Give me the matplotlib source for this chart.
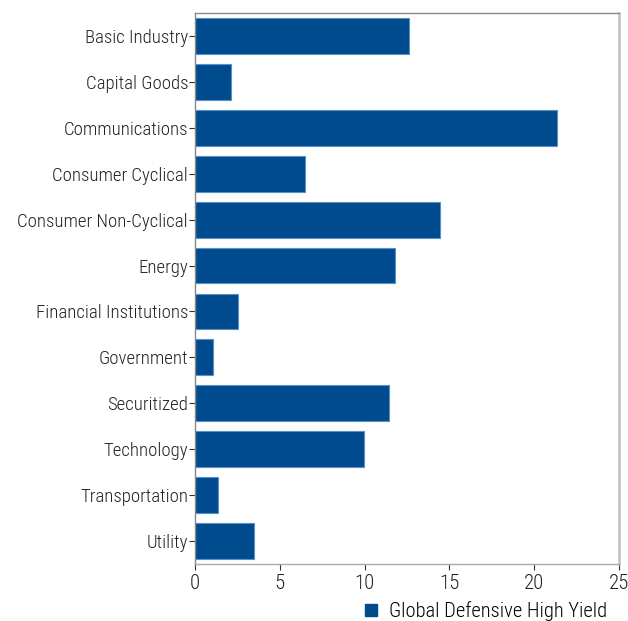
import matplotlib
matplotlib.use("Agg")
import matplotlib.pyplot as plt

plt.rcParams['font.family'] = ['Roboto Condensed', 'DejaVu Sans']
plt.rcParams['font.weight'] = 300

categories = ["Basic Industry", "Capital Goods", "Communications", "Consumer Cyclical",
              "Consumer Non-Cyclical", "Energy", "Financial Institutions", "Government",
              "Securitized", "Technology", "Transportation", "Utility"]
values = [12.6, 2.1, 21.35, 6.5, 14.45, 11.8, 2.55, 1.05, 11.45, 9.95, 1.35, 3.45]
series_name = "Global Defensive High Yield"
xticks = [0, 5, 10, 15, 20, 25]

bar_color = "#004b8d"

fig = plt.figure(figsize=(6.28, 6.21), dpi=100)
ax = fig.add_axes([195/628, 1 - 564/621, 424/628, 551/621])

pos = list(range(len(categories)))
ax.barh(pos, values, height=0.78, color=bar_color, edgecolor="#5b8fc7", linewidth=0.8,
        label=series_name)
ax.set_ylim(len(categories) - 0.5, -0.5)
ax.set_xlim(0, 25)
ax.set_yticks(pos)
ax.set_yticklabels(categories)
ax.set_xticks(xticks)
ax.tick_params(axis='both', labelsize=13.5, colors="#333333", length=4, width=0.8)
ax.tick_params(axis='y', pad=1)
ax.tick_params(axis='x', pad=3, labelsize=15)
for lbl in ax.get_xticklabels() + ax.get_yticklabels():
    lbl.set_color("#222222")

ax.spines['left'].set_color("#888888")
ax.spines['bottom'].set_color("#aaaaaa")
ax.spines['top'].set_color("#888888")
ax.spines['right'].set_color("#c0c0c0")
ax.spines['right'].set_linewidth(1.8)
for s in ['left', 'bottom', 'top']:
    ax.spines[s].set_linewidth(1.0)

fig.legend(handles=[plt.Line2D([], [], marker='s', linestyle='none', color=bar_color,
                               markersize=8)],
           labels=[series_name], loc='center left', bbox_to_anchor=(340/628, 1 - 611/621),
           frameon=False, fontsize=14.8, handletextpad=0.3, handlelength=1.2)

fig.savefig("out.png", dpi=100)
